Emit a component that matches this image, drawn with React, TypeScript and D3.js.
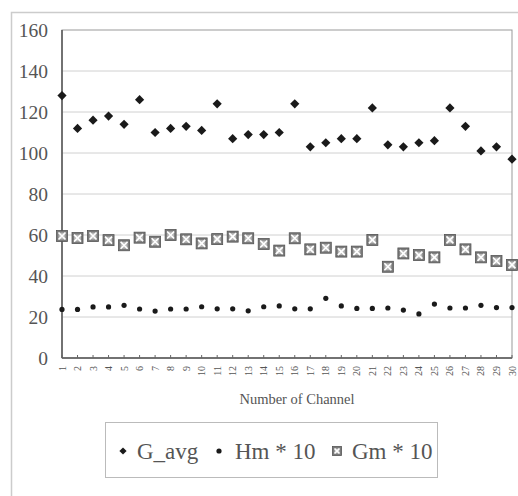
import React from 'react';
import * as d3 from 'd3';

const channels = d3.range(1, 31);
const gAvg = [128, 112, 116, 118, 114, 126, 110, 112, 113, 111, 124, 107, 109, 109, 110, 124, 103, 105, 107, 107, 122, 104, 103, 105, 106, 122, 113, 101, 103, 97];
const hm10 = [23.7, 23.7, 24.9, 24.9, 25.7, 23.9, 22.9, 23.9, 23.9, 25, 24, 24, 23, 25, 25.4, 24, 24, 29.1, 25.4, 24.2, 24.2, 24.4, 23.4, 21.5, 26.3, 24.4, 24.4, 25.7, 24.6, 24.6];
const gm10 = [59.5, 58.5, 59.5, 57.5, 55, 58.7, 56.7, 60, 57.9, 55.9, 58, 59.2, 58.4, 55.6, 52.4, 58.4, 53, 53.8, 51.9, 51.9, 57.6, 44.5, 51, 50.2, 49.1, 57.6, 53, 49.1, 47.3, 45.4];
const yTicks = [0, 20, 40, 60, 80, 100, 120, 140, 160];
const seriesNames = ['G_avg', 'Hm * 10', 'Gm * 10'];

const serif = { fontFamily: "'Liberation Serif', 'Times New Roman', serif" };
const textColor = '#555';

function Diamond({ x, y, r }: { x: number; y: number; r: number }) {
  return <path d={`M${x},${y - r}L${x + r},${y}L${x},${y + r}L${x - r},${y}Z`} fill="#1a1a1a" />;
}

function BoxX({ x, y, s }: { x: number; y: number; s: number }) {
  const h = s / 2;
  const i = h - 2;
  return (
    <g>
      <rect x={x - h} y={y - h} width={s} height={s} fill="#7a7a7a" stroke="#555" strokeWidth={0.8} />
      <rect x={x - i} y={y - i} width={i * 2} height={i * 2} fill="#b8b8b8" />
      <path d={`M${x - i},${y - i}L${x + i},${y + i}M${x + i},${y - i}L${x - i},${y + i}`} stroke="#fff" strokeWidth={1.6} />
    </g>
  );
}

export default function App() {
  const width = 518;
  const height = 496;
  const left = 62, right = 512, top = 30, bottom = 358;

  const x = d3.scaleLinear().domain([1, 30]).range([left, right]);
  const y = d3.scaleLinear().domain([0, 160]).range([bottom, top]);

  const legendY = 451;
  return (
    <svg width={width} height={height} style={{ position: 'absolute', left: 0, top: 0, background: '#fff', ...serif }}>
      <rect x={11.5} y={12.5} width={520} height={500} fill="none" stroke="#ccc" strokeWidth={1.5} />
      {yTicks.slice(1, -1).map((t) => (
        <line key={t} x1={left} x2={right} y1={y(t)} y2={y(t)} stroke="#d0d0d0" strokeWidth={1} />
      ))}
      <rect x={left} y={top} width={right - left} height={bottom - top} fill="none" stroke="#999" strokeWidth={1} />
      <line x1={left} x2={left} y1={top} y2={bottom} stroke="#555" strokeWidth={1.5} />
      <line x1={left} x2={right} y1={bottom} y2={bottom} stroke="#555" strokeWidth={1.5} />
      {channels.map((c) => (
        <line key={c} x1={x(c)} x2={x(c)} y1={bottom} y2={bottom - 3} stroke="#666" strokeWidth={1} />
      ))}
      {yTicks.map((t) => (
        <text key={t} x={48} y={y(t)} dy="0.35em" textAnchor="end" style={serif} fontSize={19.5} fill={textColor}>
          {t}
        </text>
      ))}
      {channels.map((c) => (
        <text
          key={c}
          transform={`translate(${x(c)},${bottom + 8}) rotate(-90)`}
          dy="0.35em"
          textAnchor="end"
          style={serif}
          fontSize={10}
          fill={textColor}
        >
          {c}
        </text>
      ))}
      <text x={(left + right) / 2 + 10} y={404} textAnchor="middle" style={serif} fontSize={14.5} fill={textColor}>
        Number of Channel
      </text>

      {gm10.map((v, i) => (
        <BoxX key={i} x={x(channels[i])} y={y(v)} s={11} />
      ))}
      {hm10.map((v, i) => (
        <circle key={i} cx={x(channels[i])} cy={y(v)} r={2.6} fill="#1a1a1a" />
      ))}
      {gAvg.map((v, i) => (
        <Diamond key={i} x={x(channels[i])} y={y(v)} r={4.6} />
      ))}

      <rect x={105.5} y={422.5} width={332} height={55} fill="#fff" stroke="#bbb" strokeWidth={1} />
      <Diamond x={123} y={legendY} r={3.6} />
      <text x={137} y={legendY + 8} style={serif} fontSize={23} fill={textColor}>{seriesNames[0]}</text>
      <circle cx={219} cy={legendY} r={2.6} fill="#1a1a1a" />
      <text x={235} y={legendY + 8} style={serif} fontSize={23} fill={textColor}>{seriesNames[1]}</text>
      <BoxX x={337} y={legendY} s={9} />
      <text x={352} y={legendY + 8} style={serif} fontSize={23} fill={textColor}>{seriesNames[2]}</text>
    </svg>
  );
}
